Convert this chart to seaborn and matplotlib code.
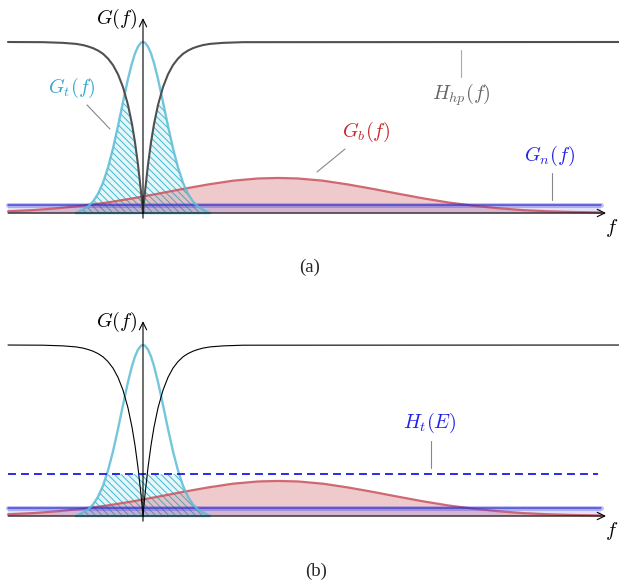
import matplotlib
matplotlib.use("Agg")
import matplotlib.pyplot as plt
import numpy as np
import seaborn as sns

# frequency axis (arbitrary units, 0 at the G(f) axis)
f_core = [-0.67, -0.6, -0.55, -0.5, -0.45, -0.4, -0.35, -0.3, -0.25, -0.2, -0.15, -0.11,
          -0.08, -0.05, -0.02, 0.0, 0.02, 0.05, 0.08, 0.11, 0.15, 0.2, 0.25, 0.3, 0.35,
          0.4, 0.45, 0.5, 0.55, 0.6, 0.67]

# target spectrum G_t(f)
g_t = [0.0, 0.020, 0.038, 0.067, 0.112, 0.177, 0.266, 0.378, 0.509, 0.649, 0.784, 0.877,
       0.933, 0.973, 0.996, 1.0, 0.996, 0.973, 0.933, 0.877, 0.784, 0.649, 0.509, 0.378, 0.266,
       0.177, 0.112, 0.067, 0.038, 0.020, 0.0]

# high-pass filter H_hp(f) on the same core grid
h_hp_core = [0.989, 0.982, 0.974, 0.964, 0.950, 0.931, 0.903, 0.865, 0.811, 0.736, 0.632, 0.520,
             0.413, 0.283, 0.125, 0.0, 0.125, 0.283, 0.413, 0.520, 0.632, 0.736, 0.811, 0.865, 0.903,
             0.931, 0.950, 0.964, 0.974, 0.982, 0.989]
f_hp_left = [-1.35, -1.0, -0.8]
h_hp_left = [1.0, 0.999, 0.995]
f_hp_right = [0.8, 1.0, 4.76]
h_hp_right = [0.995, 0.999, 1.0]

# background spectrum G_b(f)
f_b = [-1.35, -1.1, -0.85, -0.6, -0.35, -0.1, 0.15, 0.4, 0.65, 0.9, 1.15, 1.35, 1.55, 1.8,
       2.05, 2.3, 2.55, 2.8, 3.05, 3.3, 3.55, 3.8, 4.05, 4.3, 4.58]
g_b = [0.010, 0.017, 0.028, 0.043, 0.062, 0.086, 0.113, 0.141, 0.167, 0.189, 0.202, 0.205,
       0.202, 0.189, 0.167, 0.141, 0.113, 0.086, 0.062, 0.043, 0.028, 0.017, 0.010, 0.006, 0.003]

# noise floor G_n(f) and threshold H_t(E)
f_n = [-1.35, 4.58]
g_n = [0.044, 0.044]
f_th = [-1.35, 4.55]
h_th = [0.244, 0.244]

f_hp = f_hp_left + f_core + f_hp_right
h_hp = h_hp_left + h_hp_core + h_hp_right

sns.set_theme(style="white")
plt.rcParams["mathtext.fontset"] = "cm"
plt.rcParams["hatch.linewidth"] = 0.7

C_T = "#5bbcd6"
C_TL = "#35a8cc"
C_B = "#c9505a"
C_BL = "#c8262e"
C_N = "#3a3ae8"
C_NL = "#2222e6"
FS = 14.5

fig = plt.figure(figsize=(6.19, 5.82), dpi=100)
ax_a = fig.add_axes([0, 0.5, 1, 0.5])
ax_b = fig.add_axes([0, 0, 1, 0.5])


def draw_panel(ax, hatch_top, hp_color, hp_lw):
    # G_t hatched part
    ax.fill_between(f_core, 0, hatch_top, facecolor="#e6f7fa", edgecolor="#3cbad4",
                    hatch="\\\\\\\\\\", linewidth=0, zorder=1)
    # G_b
    ax.fill_between(f_b, 0, g_b, color=C_B, alpha=0.3, linewidth=0, zorder=2)
    sns.lineplot(x=f_b, y=g_b, ax=ax, color=C_B, lw=1.6, alpha=0.85, estimator=None,
                 sort=False, zorder=3)
    # G_n
    ax.fill_between(f_n, 0, g_n, color=C_N, alpha=0.15, linewidth=0, zorder=2)
    sns.lineplot(x=f_n, y=g_n, ax=ax, color=C_N, lw=3.6, alpha=0.3, estimator=None,
                 sort=False, zorder=3)
    sns.lineplot(x=f_n, y=g_n, ax=ax, color="#3030c8", lw=1.1, alpha=0.8, estimator=None,
                 sort=False, zorder=3)
    # G_t outline
    sns.lineplot(x=f_core + [f_core[0]], y=g_t + [g_t[0]], ax=ax, color=C_T, lw=1.7,
                 alpha=0.85, estimator=None, sort=False, zorder=4)
    # H_hp
    sns.lineplot(x=f_hp, y=h_hp, ax=ax, color=hp_color, lw=hp_lw, estimator=None,
                 sort=False, zorder=5)
    # axes arrows
    ax.annotate("", xy=(4.63, 0), xytext=(-1.35, 0),
                arrowprops=dict(arrowstyle="->,head_length=0.45,head_width=0.22",
                                lw=0.8, color="black", shrinkA=0, shrinkB=0), zorder=6)
    ax.annotate("", xy=(0, 1.14), xytext=(0, -0.03),
                arrowprops=dict(arrowstyle="->,head_length=0.45,head_width=0.22",
                                lw=0.8, color="black", shrinkA=0, shrinkB=0), zorder=6)
    ax.text(-0.06, 1.135, r"$G(f)$", fontsize=FS, ha="right", va="center", color="black")
    ax.text(4.69, -0.09, r"$f$", fontsize=FS, ha="center", va="center", color="black")
    ax.set_xlim(-1.43, 4.76)
    ax.set_axis_off()


# (a)
hatch_a = [min(a, b) for a, b in zip(g_t, h_hp_core)]
draw_panel(ax_a, hatch_a, "#505050", 1.5)
ax_a.set_ylim(-0.456, 1.2456)
ax_a.text(-0.71, 0.73, r"$G_t(f)$", fontsize=FS, color=C_TL, ha="center", va="center")
ax_a.plot([-0.56, -0.33], [0.632, 0.491], color="#888888", lw=0.8)
ax_a.text(3.18, 0.69, r"$H_{hp}(f)$", fontsize=FS, color="#666666", ha="center", va="center")
ax_a.plot([3.18, 3.18], [0.953, 0.795], color="#aaaaaa", lw=0.8)
ax_a.text(2.23, 0.474, r"$G_b(f)$", fontsize=FS, color=C_BL, ha="center", va="center")
ax_a.plot([2.02, 1.74], [0.374, 0.240], color="#888888", lw=0.8)
ax_a.text(4.07, 0.333, r"$G_n(f)$", fontsize=FS, color=C_NL, ha="center", va="center")
ax_a.plot([4.09, 4.09], [0.234, 0.076], color="#888888", lw=0.8)
ax_a.text(1.67, -0.316, "(a)", fontsize=13.5, family="Liberation Serif", ha="center", va="center")

# (b)
hatch_b = [min(a, h_th[0]) for a in g_t]
draw_panel(ax_b, hatch_b, "black", 0.8)
ax_b.set_ylim(-0.386, 1.316)
sns.lineplot(x=f_th, y=h_th, ax=ax_b, color="#1a1ae6", lw=1.3, estimator=None, sort=False,
             dashes=False, zorder=5).lines[-1].set_dashes((4.4, 2.8))
ax_b.text(2.87, 0.544, r"$H_t(E)$", fontsize=FS, color=C_NL, ha="center", va="center")
ax_b.plot([2.88, 2.88], [0.439, 0.281], color="#888888", lw=0.8)
ax_b.text(1.73, -0.322, "(b)", fontsize=13.5, family="Liberation Serif", ha="center", va="center")

fig.savefig("out.png", dpi=100)
